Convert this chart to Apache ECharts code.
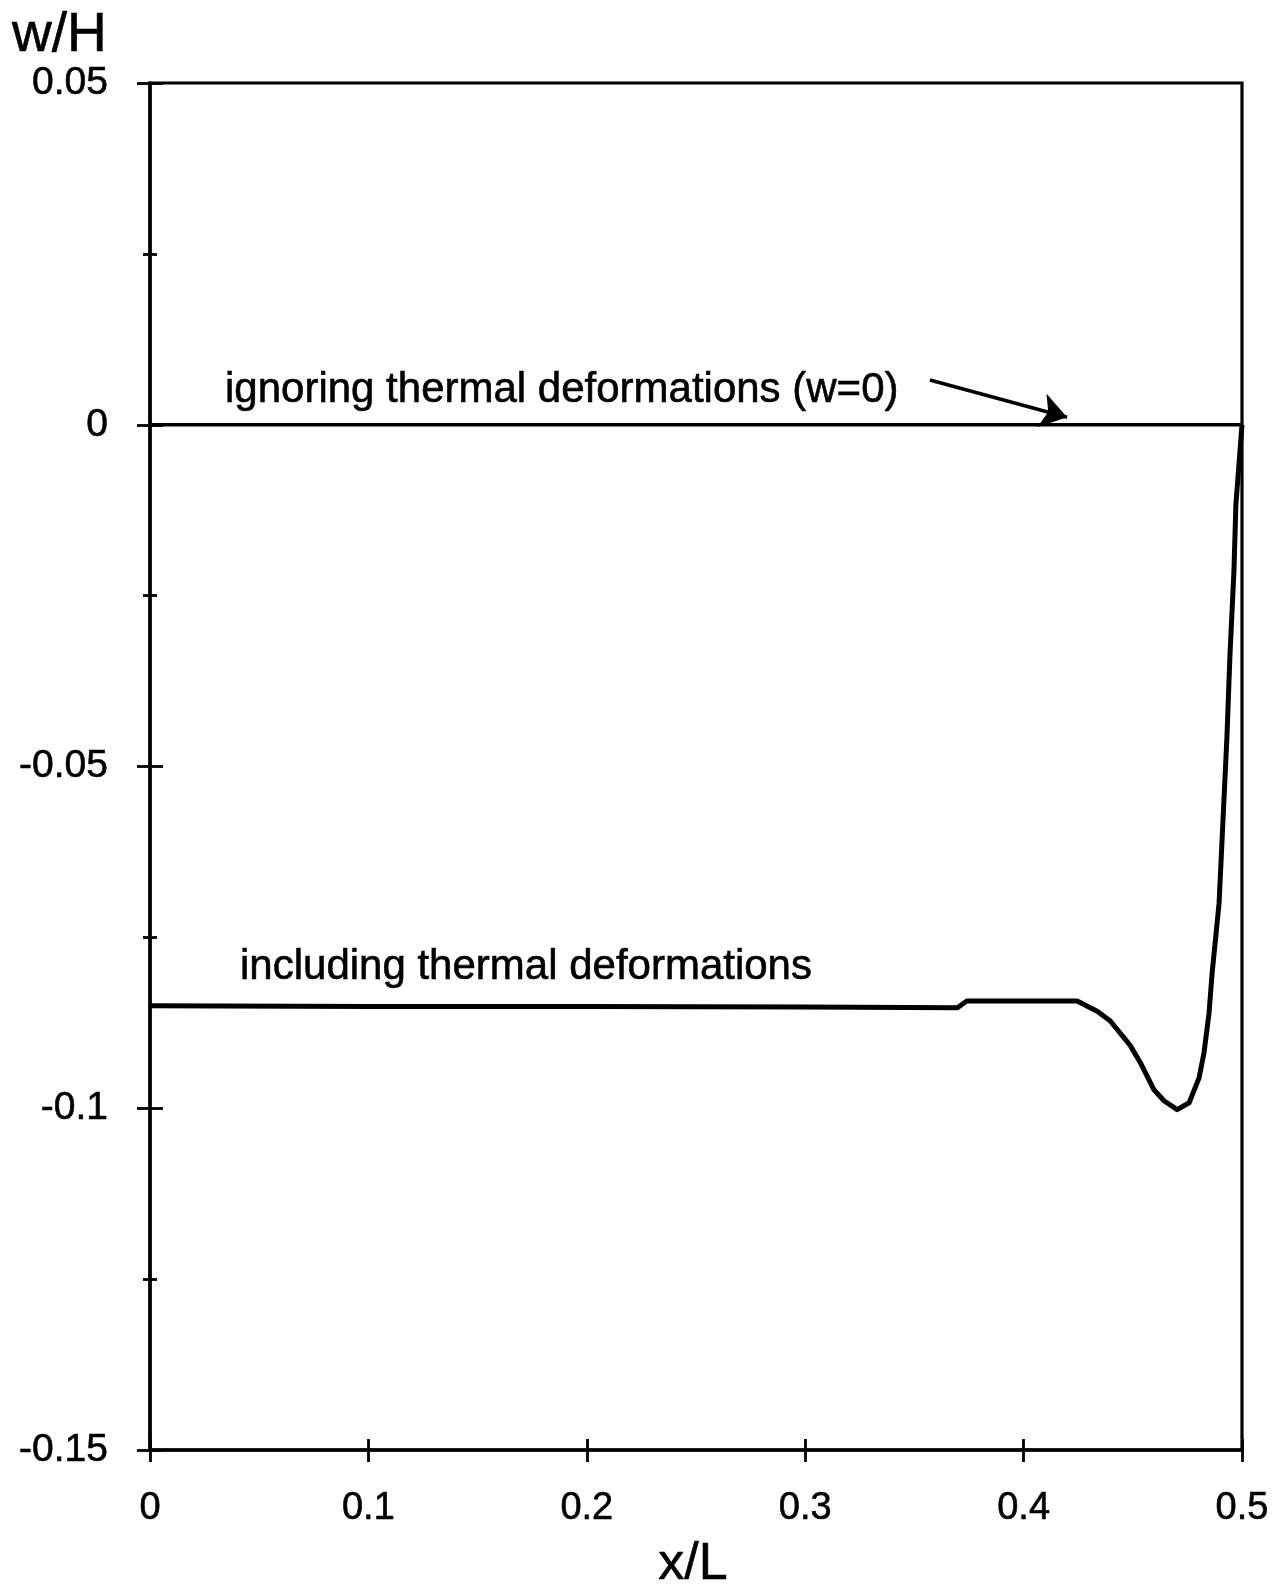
<!DOCTYPE html>
<html>
<head>
<meta charset="utf-8">
<title>w/H versus x/L</title>
<script src="https://cdn.jsdelivr.net/npm/echarts@6/dist/echarts.min.js"></script>
<style>
  html, body { margin: 0; padding: 0; background: #fff; }
  #chart { width: 1284px; height: 1593px; }
</style>
</head>
<body>
<div id="chart"></div>
<script>
// Deflection w/H along the half span x/L
const xIncluding = [0, 0.1, 0.2, 0.3, 0.3697, 0.374, 0.4245, 0.4337, 0.4396, 0.4488, 0.4534,
  0.4597, 0.4643, 0.4703, 0.4758, 0.4803, 0.4826, 0.4849, 0.4863, 0.4895, 0.4931, 0.4945,
  0.4963, 0.4972, 0.5];
const yIncluding = [-0.0850, -0.0851, -0.0851, -0.0852, -0.0853, -0.0843, -0.0843, -0.0858,
  -0.0872, -0.0908, -0.0933, -0.0973, -0.0989, -0.1002, -0.0992, -0.0956, -0.0919, -0.0861,
  -0.0803, -0.0700, -0.0457, -0.0336, -0.0215, -0.0117, 0];

const xIgnoring = [0, 0.5];
const yIgnoring = [0, 0];

const xTicks = [0, 0.1, 0.2, 0.3, 0.4, 0.5];
const xTickLabels = ['0', '0.1', '0.2', '0.3', '0.4', '0.5'];
const yTicks = [0.05, 0, -0.05, -0.1, -0.15];
const yTickLabels = ['0.05', '0', '-0.05', '-0.1', '-0.15'];

const labelIncluding = 'including thermal deformations';
const labelIgnoring = 'ignoring thermal deformations (w=0)';
const xTitle = 'x/L';
const yTitle = 'w/H';

const FONT = '"Liberation Sans", Arial, Helvetica, sans-serif';

function pick(ticks, labels) {
  return function (v) {
    for (let i = 0; i < ticks.length; i++) {
      if (Math.abs(v - ticks[i]) < 1e-9) return labels[i];
    }
    return '';
  };
}

const zip = (xs, ys) => xs.map((x, i) => [x, ys[i]]);

const chart = echarts.init(document.getElementById('chart'), null, { renderer: 'canvas' });

const xBase = {
  type: 'value', min: 0, max: 0.5, interval: 0.1, position: 'bottom',
  splitLine: { show: false }
};
const yBase = {
  type: 'value', min: -0.15, max: 0.05, interval: 0.05, position: 'left',
  splitLine: { show: false }, minorSplitLine: { show: false }
};
const tickStyle = { color: '#000', width: 2.8 };
// slightly heavier glyphs: axis labels use a text border, free text a thin stroke
const ink = { textBorderColor: '#000', textBorderWidth: 0.6 };
const textInk = { stroke: '#000', lineWidth: 0.6 };

function note(text, x, y, size, align) {
  return {
    type: 'text', x: x, y: y, silent: true,
    style: Object.assign({
      text: text, fill: '#000', font: size + 'px ' + FONT,
      verticalAlign: 'middle', align: align
    }, textInk)
  };
}

chart.setOption({
  animation: false,
  backgroundColor: '#fff',
  grid: {
    left: 150, right: 42, top: 83, bottom: 143,
    show: true, borderColor: '#000', borderWidth: 3.2,
    containLabel: false, outerBoundsMode: 'none'
  },
  xAxis: [
    Object.assign({}, xBase, {
      axisLine: { show: true, onZero: false, lineStyle: { color: '#000', width: 3.5 } },
      axisTick: { show: true, inside: false, length: 12, lineStyle: tickStyle },
      axisLabel: Object.assign({
        show: true, margin: 40, color: '#000', fontFamily: FONT, fontSize: 38,
        formatter: pick(xTicks, xTickLabels)
      }, ink)
    }),
    Object.assign({}, xBase, {
      axisLine: { show: false, onZero: false },
      axisTick: { show: true, inside: true, length: 11, lineStyle: tickStyle },
      axisLabel: { show: false }
    })
  ],
  yAxis: [
    Object.assign({}, yBase, {
      axisLine: { show: true, onZero: false, lineStyle: { color: '#000', width: 3.5 } },
      axisTick: { show: true, inside: false, length: 13, lineStyle: tickStyle },
      minorTick: { show: true, splitNumber: 2, length: 7, lineStyle: tickStyle },
      axisLabel: Object.assign({
        show: true, margin: 42, color: '#000', fontFamily: FONT, fontSize: 39,
        formatter: pick(yTicks, yTickLabels)
      }, ink)
    }),
    Object.assign({}, yBase, {
      axisLine: { show: false, onZero: false },
      axisTick: { show: true, inside: true, length: 13, lineStyle: tickStyle },
      minorTick: { show: true, splitNumber: 2, length: 7, lineStyle: tickStyle },
      axisLabel: { show: false }
    })
  ],
  series: [
    {
      name: labelIgnoring,
      type: 'line',
      data: zip(xIgnoring, yIgnoring),
      showSymbol: false,
      lineStyle: { color: '#000', width: 3.5 },
      markLine: {
        silent: true,
        symbol: ['none', 'arrow'],
        symbolSize: 26,
        label: { show: false },
        lineStyle: { color: '#000', width: 3.5, type: 'solid' },
        emphasis: { disabled: true },
        data: [[
          { coord: [0.3571, 0.00655] },
          { coord: [0.4199, 0.0011] }
        ]]
      }
    },
    {
      name: labelIncluding,
      type: 'line',
      data: zip(xIncluding, yIncluding),
      showSymbol: false,
      lineStyle: { color: '#000', width: 5, join: 'round' }
    }
  ],
  graphic: [
    note(yTitle, 12, 36, 55, 'left'),
    note(xTitle, 693, 1565, 52, 'center'),
    note(labelIgnoring, 225, 390, 42, 'left'),
    note(labelIncluding, 240, 967, 42, 'left')
  ]
});
</script>
</body>
</html>
